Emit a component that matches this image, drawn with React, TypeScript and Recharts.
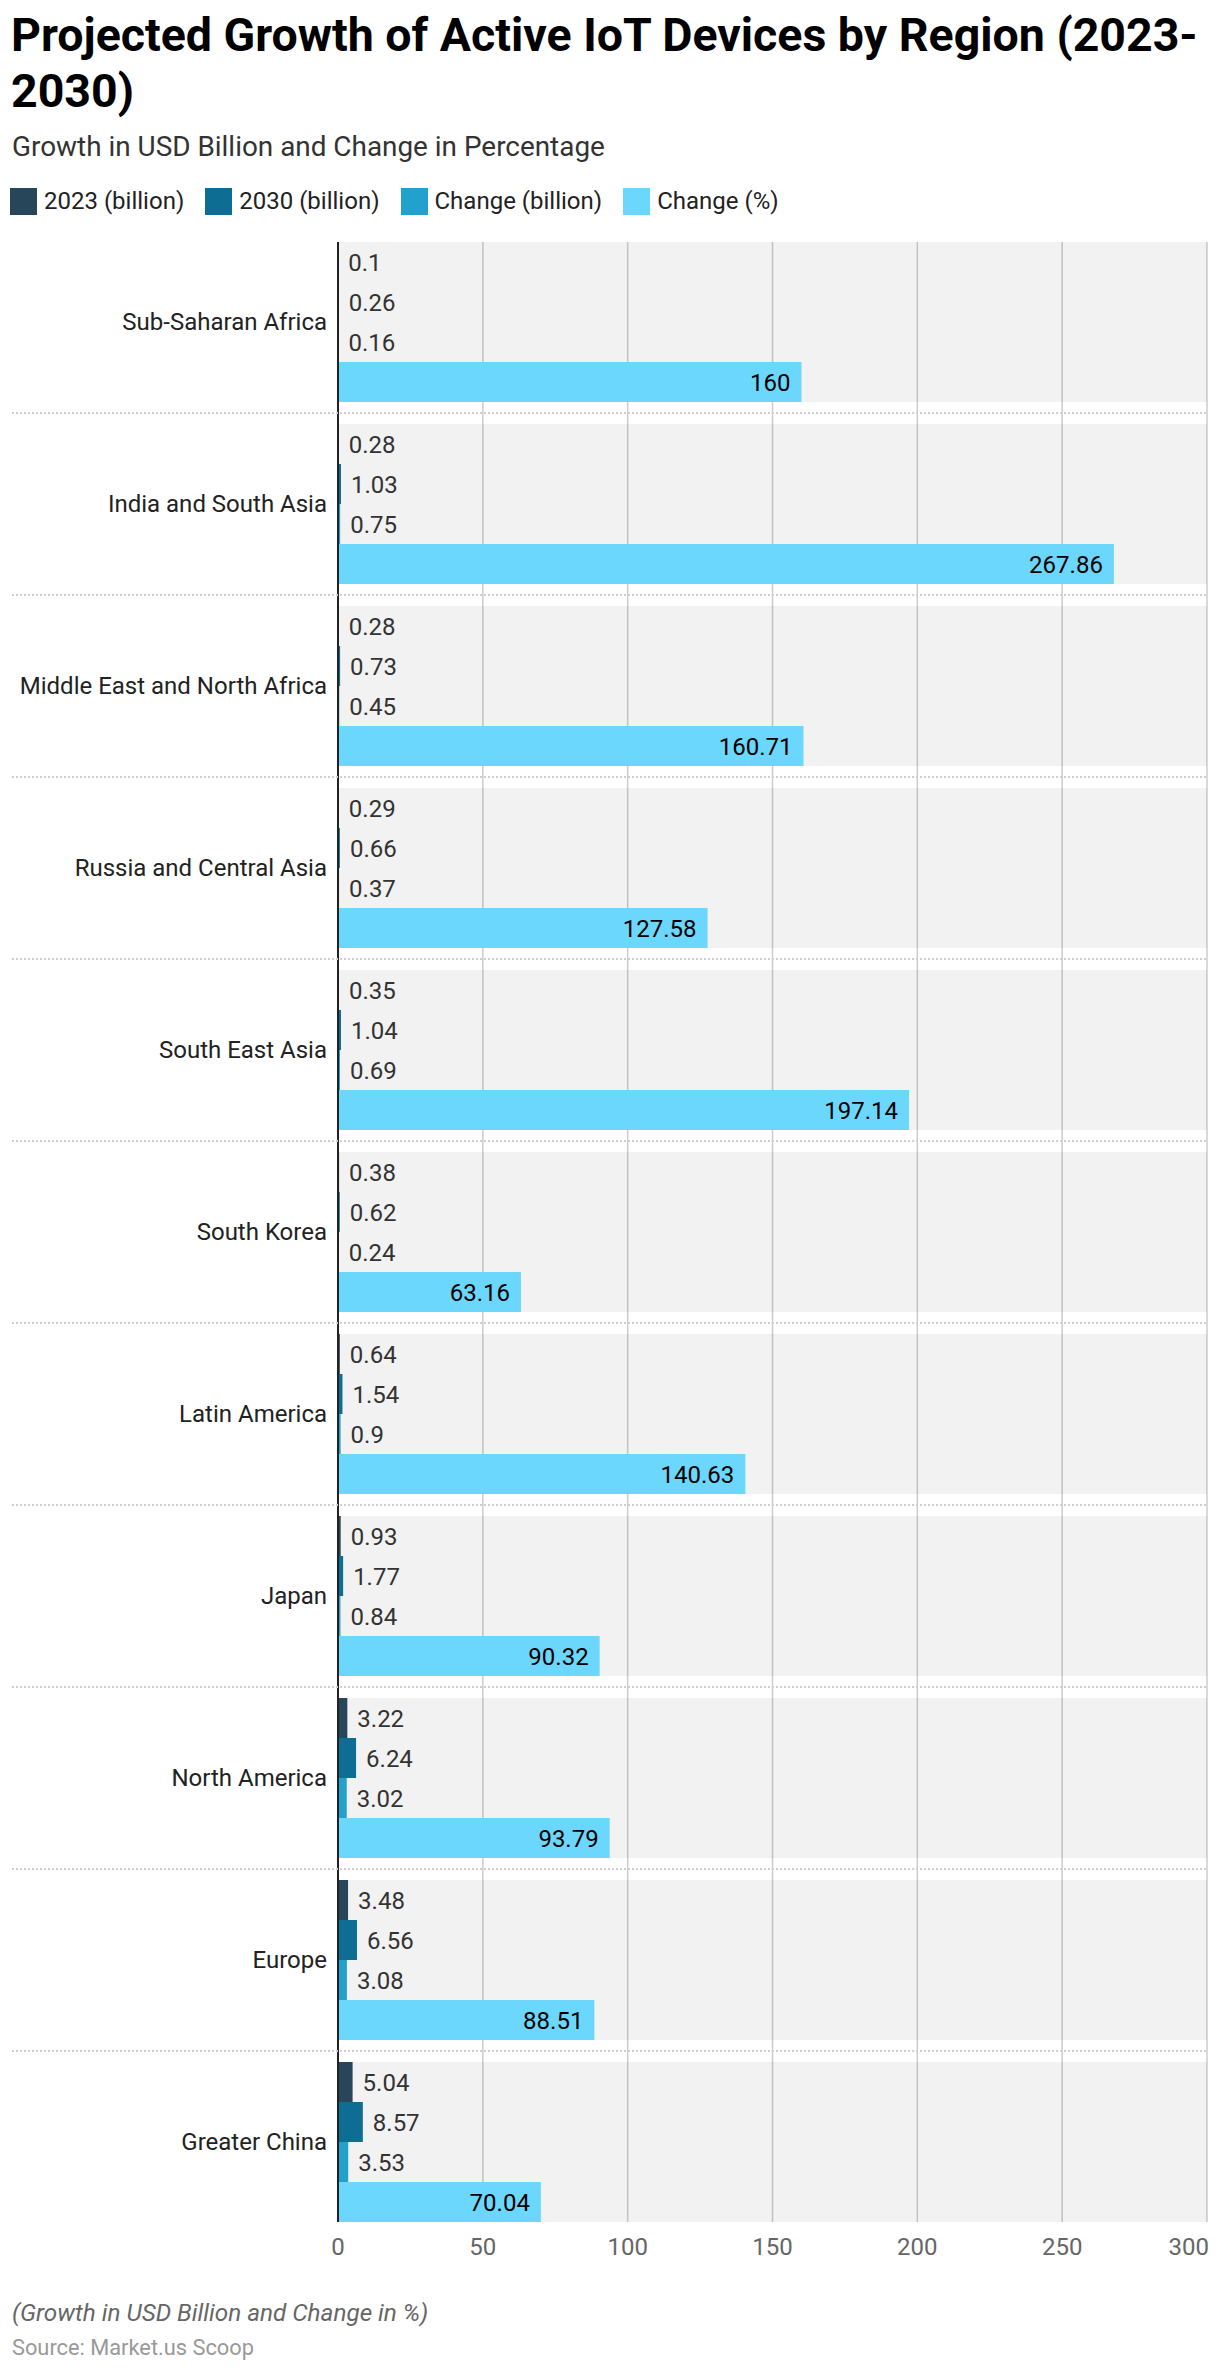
import { Bar, BarChart, CartesianGrid, LabelList, XAxis, YAxis } from 'recharts'

const REGIONS = [
  'Sub-Saharan Africa',
  'India and South Asia',
  'Middle East and North Africa',
  'Russia and Central Asia',
  'South East Asia',
  'South Korea',
  'Latin America',
  'Japan',
  'North America',
  'Europe',
  'Greater China',
]
const Y2023 = [0.1, 0.28, 0.28, 0.29, 0.35, 0.38, 0.64, 0.93, 3.22, 3.48, 5.04]
const Y2030 = [0.26, 1.03, 0.73, 0.66, 1.04, 0.62, 1.54, 1.77, 6.24, 6.56, 8.57]
const CHANGE_BN = [0.16, 0.75, 0.45, 0.37, 0.69, 0.24, 0.9, 0.84, 3.02, 3.08, 3.53]
const CHANGE_PCT = [160, 267.86, 160.71, 127.58, 197.14, 63.16, 140.63, 90.32, 93.79, 88.51, 70.04]
const X_TICKS = [0, 50, 100, 150, 200, 250, 300]

const SERIES = [
  { key: 'y2023', name: '2023 (billion)', color: '#28465a' },
  { key: 'y2030', name: '2030 (billion)', color: '#0e6d93' },
  { key: 'changeBn', name: 'Change (billion)', color: '#21a1cb' },
  { key: 'changePct', name: 'Change (%)', color: '#6bd7fd' },
]

const data = REGIONS.map((region, i) => ({
  region,
  y2023: Y2023[i],
  y2030: Y2030[i],
  changeBn: CHANGE_BN[i],
  changePct: CHANGE_PCT[i],
}))

// layout (px)
const CHART_TOP = 230
const CHART_H = 2050
const PLOT_LEFT = 338
const PLOT_RIGHT = 1207
const PLOT_TOP = 242
const PLOT_BOTTOM = 2222
const EDGE_GAP = 11
const STEP = (PLOT_BOTTOM - PLOT_TOP + 2 * EDGE_GAP) / REGIONS.length

function RegionTick(props: any) {
  const { x, y, payload, index } = props
  return (
    <g>
      {index < REGIONS.length - 1 && (
        <line
          x1={12}
          x2={PLOT_RIGHT}
          y1={y + STEP / 2}
          y2={y + STEP / 2}
          stroke="#cfcfcf"
          strokeWidth={2}
          strokeDasharray="2 2"
        />
      )}
      <text x={x} y={y} dy="0.35em" textAnchor="end" fill="#222" fontSize={24}>
        {payload.value}
      </text>
    </g>
  )
}

function ValueTick(props: any) {
  const { x, y, payload, index } = props
  const last = index === X_TICKS.length - 1
  return (
    <text x={last ? x + 2 : x} y={y} dy="0.71em" textAnchor={last ? 'end' : 'middle'} fill="#666" fontSize={24}>
      {payload.value}
    </text>
  )
}

export default function App() {
  return (
    <div
      style={{
        position: 'absolute',
        left: 0,
        top: 0,
        width: 1220,
        height: 2374,
        background: '#fff',
        fontFamily: 'Roboto, sans-serif',
        overflow: 'hidden',
      }}
    >
      <div
        style={{
          position: 'absolute',
          left: 11,
          top: 7,
          fontSize: 46.5,
          lineHeight: '56px',
          fontWeight: 700,
          color: '#000',
          whiteSpace: 'nowrap',
        }}
      >
        Projected Growth of Active IoT Devices by Region (2023-
        <br />
        2030)
      </div>
      <div
        style={{ position: 'absolute', left: 12, top: 130, fontSize: 27.9, lineHeight: '34px', color: '#333' }}
      >
        Growth in USD Billion and Change in Percentage
      </div>

      <div style={{ position: 'absolute', left: 10, top: 188, display: 'flex', gap: 21 }}>
        {SERIES.map((s) => (
          <div key={s.key} style={{ display: 'flex', alignItems: 'center', gap: 7 }}>
            <span style={{ width: 27, height: 27, background: s.color, display: 'inline-block' }} />
            <span style={{ fontSize: 24, lineHeight: '27px', color: '#222' }}>{s.name}</span>
          </div>
        ))}
      </div>

      <div style={{ position: 'absolute', left: 0, top: CHART_TOP }}>
        <BarChart
          width={1220}
          height={CHART_H}
          data={data}
          layout="vertical"
          barSize={40}
          barGap={0}
          barCategoryGap={EDGE_GAP}
          margin={{
            top: PLOT_TOP - CHART_TOP,
            right: 1220 - PLOT_RIGHT,
            left: 0,
            bottom: CHART_TOP + CHART_H - PLOT_BOTTOM - 30,
          }}
        >
          <CartesianGrid horizontal={false} stroke="#cccccc" strokeWidth={1.5} />
          <XAxis
            type="number"
            domain={[0, 300]}
            ticks={X_TICKS}
            axisLine={false}
            tickLine={false}
            tickSize={0}
            tickMargin={16}
            height={30}
            interval={0}
            tick={<ValueTick />}
          />
          <YAxis
            type="category"
            dataKey="region"
            width={PLOT_LEFT}
            padding={{ top: -EDGE_GAP, bottom: -EDGE_GAP }}
            axisLine={{ stroke: '#222', strokeWidth: 2 }}
            tickLine={false}
            tickSize={0}
            tickMargin={11}
            interval={0}
            tick={<RegionTick />}
          />
          {SERIES.map((s, i) => (
            <Bar
              key={s.key}
              dataKey={s.key}
              name={s.name}
              fill={s.color}
              isAnimationActive={false}
              background={{ fill: '#000', fillOpacity: 0.05 }}
            >
              <LabelList
                dataKey={s.key}
                position={i === 3 ? 'insideRight' : 'right'}
                offset={i === 3 ? 11 : 10}
                fill={i === 3 ? '#000' : '#333'}
                fontSize={24}
              />
            </Bar>
          ))}
        </BarChart>
      </div>

      <div
        style={{ position: 'absolute', left: 12, top: 2298, fontSize: 24.3, lineHeight: '30px', fontStyle: 'italic', color: '#666' }}
      >
        (Growth in USD Billion and Change in %)
      </div>
      <div style={{ position: 'absolute', left: 12, top: 2335, fontSize: 21.8, lineHeight: '26px', color: '#999' }}>
        Source: Market.us Scoop
      </div>
    </div>
  )
}
